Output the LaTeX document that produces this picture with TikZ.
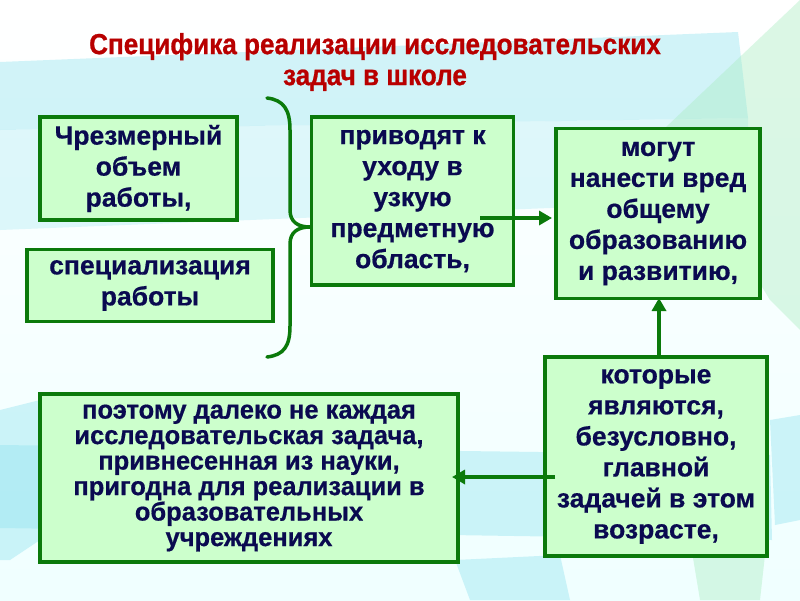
\documentclass[tikz,border=0pt]{standalone}
\usepackage{fontspec}
\setmainfont{Liberation Sans}[BoldFeatures={FakeBold=0.6}]
\newfontfamily\narrowfont{Liberation Sans}[FakeStretch=0.98, BoldFeatures={FakeBold=0.6}]
\newfontfamily\titlefont{Liberation Sans}[FakeStretch=0.9, BoldFeatures={FakeBold=0.8}]
\usetikzlibrary{arrows.meta}
\definecolor{boxfill}{HTML}{CCFFCC}
\definecolor{boxline}{HTML}{0B7A0B}
\definecolor{txt}{HTML}{0A0A50}
\definecolor{ttl}{HTML}{B80000}
\definecolor{bgcyan}{HTML}{8FE3EE}
\definecolor{bggreen}{HTML}{A8ECC0}
\tikzset{
  box/.style={draw=boxline, line width=3.5pt, fill=boxfill, align=center, text=txt,
    font=\fontsize{26.5}{31}\selectfont\bfseries, inner sep=0pt},
  narrowbox/.style={box, font=\narrowfont\fontsize{26}{25.5}\selectfont\bfseries},
  conn/.style={draw=boxline, line width=4pt, -{Triangle[length=13pt,width=14pt]}},
  bracestyle/.style={draw=boxline, line width=3.5pt, line cap=round},
  bgshape/.style={fill opacity=0.4, draw=none},
  titlestyle/.style={align=center, font=\titlefont\fontsize{29}{31}\selectfont\bfseries}
}
\begin{document}
\begin{tikzpicture}[x=1pt,y=-1pt]
\useasboundingbox (0,0) rectangle (800,600);
% background
\shade[top color=white, bottom color=cyan!6] (0,0) rectangle (800,600);
\fill[bgshape, bgcyan] (0,62) -- (738,32) -- (748,118) -- (0,130) -- cycle;
\fill[bgshape, bgcyan!70] (0,130) -- (748,118) -- (750,200) -- (0,230) -- cycle;
\fill[bgshape, bggreen] (800,0) -- (800,330) -- (770,300) -- (665,128) -- cycle;
\fill[bgshape, bgcyan] (0,445) -- (770,455) -- (772,540) -- (0,528) -- cycle;
\fill[bgshape, bgcyan] (0,410) -- (60,395) -- (70,520) -- (10,560) -- (0,560) -- cycle;
\fill[bgshape, bgcyan] (770,420) -- (800,415) -- (800,520) -- (775,525) -- cycle;
\fill[bgshape, bgcyan] (455,560) -- (560,555) -- (570,600) -- (470,600) -- cycle;
\fill[bgshape, bggreen] (690,540) -- (765,555) -- (760,600) -- (700,600) -- cycle;
% title
\node[titlestyle, text=ttl] (title) at (375,62)
  {Специфика реализации исследовательских\\задач в школе};
% boxes
\node[box, minimum width=197pt, minimum height=103pt] (a) at (138.5,168.5)
  {Чрезмерный\\объем\\работы,};
\node[box, minimum width=246pt, minimum height=72pt] (b) at (150,285.5)
  {специализация\\работы};
\node[box, minimum width=202pt, minimum height=168pt] (c) at (412.5,201)
  {приводят к\\уходу в\\узкую\\предметную\\область,};
\node[box, minimum width=204pt, minimum height=170pt] (d) at (658,213.5)
  {могут\\нанести вред\\общему\\образованию\\и развитию,};
\node[box, minimum width=222pt, minimum height=199pt] (e) at (656,456.5)
  {которые\\являются,\\безусловно,\\главной\\задачей в этом\\возрасте,};
\node[narrowbox, minimum width=418pt, minimum height=168pt] (f) at (249,478)
  {поэтому далеко не каждая\\исследовательская задача,\\привнесенная из науки,\\пригодна для реализации в\\образовательных\\учреждениях};
% brace
\draw[bracestyle] (267,98) .. controls (284,100) and (290,110) .. (290,130)
  -- (290,210) .. controls (290,222) and (298,227) .. (310,227)
  .. controls (298,227) and (290,232) .. (290,244)
  -- (290,326) .. controls (290,346) and (284,355) .. (267,357);
% connectors
\coordinate (cstart) at (480,218);
\coordinate (dleft) at (552,218);
\coordinate (dbottom) at (659,298);
\coordinate (estart) at (555,477);
\coordinate (fend) at (452,477);
\draw[conn] (cstart) -- (dleft);
\draw[conn] (e.north -| dbottom) -- (dbottom);
\draw[conn] (estart) -- (fend);
\end{tikzpicture}
\end{document}
